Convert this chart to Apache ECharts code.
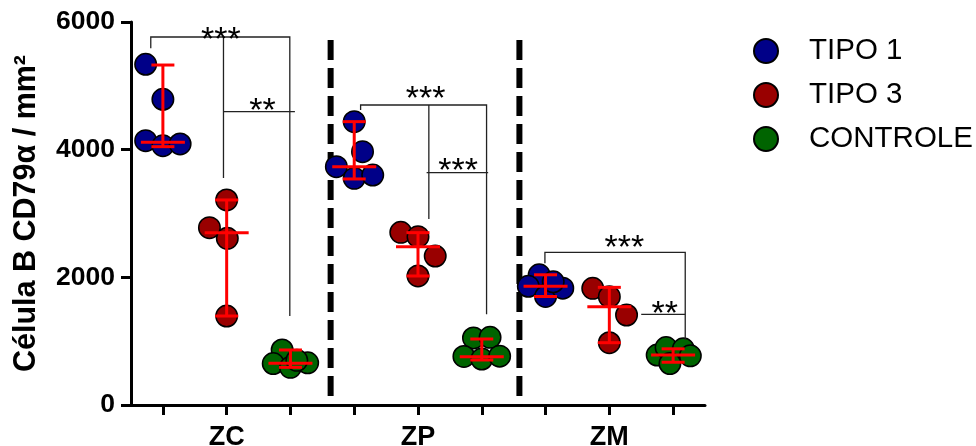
<!DOCTYPE html>
<html>
<head>
<meta charset="utf-8">
<script src="https://cdn.jsdelivr.net/npm/echarts@6/dist/echarts.min.js"></script>
<style>html,body{margin:0;padding:0;background:#fff}#c{width:976px;height:446px}</style>
</head>
<body>
<div id="c"></div>
<script>
// ---- data ----
const zones = ['ZC', 'ZP', 'ZM'];
const groupNames = ['TIPO 1', 'TIPO 3', 'CONTROLE'];
const yTicks = [0, 2000, 4000, 6000];

// individual values per zone (ZC, ZP, ZM)
const tipo1 = [[5338, 4789, 4141, 4063, 4089], [4439, 3969, 3734, 3551, 3603], [2040, 1860, 1700, 1830, 1930]];
const tipo3 = [[3212, 2778, 2611, 1394], [2705, 2637, 2334, 2021], [1828, 1697, 1410, 976]];
const controle = [[862, 650, 590, 660, 700], [1050, 1060, 760, 720, 765], [783, 900, 880, 650, 770]];
// horizontal jitter of each point (fraction of a slot)
const tipo1Jitter = [[-0.27, 0, -0.27, 0, 0.27], [0, 0.13, -0.28, 0, 0.29], [-0.1, -0.27, 0, 0.27, 0.12]];
const tipo3Jitter = [[0, -0.27, 0.01, 0], [-0.27, 0, 0.27, 0], [-0.26, 0, 0.27, 0]];
const controleJitter = [[-0.13, -0.27, 0, 0.27, 0.1], [-0.13, 0.13, -0.28, 0, 0.28], [-0.25, -0.11, 0.16, -0.05, 0.27]];

// median and range (per zone)
const tipo1Median = [4115, 3734, 1860], tipo1Low = [4047, 3541, 1700], tipo1High = [5326, 4439, 2040];
const tipo3Median = [2700, 2480, 1540], tipo3Low = [1394, 2021, 976], tipo3High = [3212, 2700, 1843];
const controleMedian = [653, 757, 783], controleLow = [590, 705, 670], controleHigh = [862, 1034, 880];

// significance brackets (data coordinates: slot units, value)
const bracketLines = [
  [[0.31, 5588], [0.31, 5765], [2.49, 5765], [2.49, 1394]],
  [[1.45, 3556], [1.45, 5750]],
  [[1.45, 4595], [2.57, 4595]],
  [[3.60, 4622], [3.60, 4700], [5.575, 4700], [5.575, 1421]],
  [[4.67, 2914], [4.67, 4700]],
  [[4.635, 3640], [5.60, 3640]],
  [[6.49, 2220], [6.49, 2392], [8.69, 2392], [8.69, 1018]],
  [[8.0, 1421], [8.69, 1421]]
];
const starText = ['***', '**', '***', '***', '***', '**'];
const starX = [1.41, 2.06, 4.62, 5.13, 7.735, 8.37];
const starY = [5820, 4700, 4896, 3768, 2561, 1527];
const dividerX = [3.13, 6.09];
const dividerTop = 5718;

// ---- build ----
const colors = ['#000088', '#990000', '#006400'];
const vals = [tipo1, tipo3, controle];
const jit = [tipo1Jitter, tipo3Jitter, controleJitter];
const meds = [tipo1Median, tipo3Median, controleMedian];
const lows = [tipo1Low, tipo3Low, controleLow];
const highs = [tipo1High, tipo3High, controleHigh];

const FONT = '"Liberation Sans", Arial, sans-serif';
const series = [];

// dividers
dividerX.forEach(x => {
  series.push({
    type: 'line', data: [[x, dividerTop], [x, 0]], symbol: 'none', silent: true,
    lineStyle: { color: '#000', width: 6, type: [20, 8] }, z: 1
  });
});

groupNames.forEach((name, g) => {
  const data = [];
  zones.forEach((z, zi) => {
    vals[g][zi].forEach((v, i) => {
      data.push([zi * 3 + g + 0.5 + jit[g][zi][i], v]);
    });
  });
  series.push({
    name, type: 'scatter', data, symbol: 'circle', symbolSize: 21.5, z: 3,
    itemStyle: { color: colors[g], borderColor: '#000', borderWidth: 1.5, opacity: 1 }
  });
});

// error bars (median with range)
const errData = [];
groupNames.forEach((n, g) => zones.forEach((z, zi) => {
  errData.push([zi * 3 + g + 0.5, meds[g][zi], lows[g][zi], highs[g][zi]]);
}));
series.push({
  type: 'custom', z: 5, silent: true, data: errData,
  renderItem: (params, api) => {
    const x = api.value(0);
    const m = api.coord([x, api.value(1)]);
    const lo = api.coord([x, api.value(2)]);
    const hi = api.coord([x, api.value(3)]);
    const st = { stroke: '#ff0000', lineWidth: 3 };
    return { type: 'group', children: [
      { type: 'line', shape: { x1: lo[0], y1: lo[1], x2: hi[0], y2: hi[1] }, style: st },
      { type: 'line', shape: { x1: lo[0] - 11.5, y1: lo[1], x2: lo[0] + 11.5, y2: lo[1] }, style: st },
      { type: 'line', shape: { x1: hi[0] - 11.5, y1: hi[1], x2: hi[0] + 11.5, y2: hi[1] }, style: st },
      { type: 'line', shape: { x1: m[0] - 22, y1: m[1], x2: m[0] + 22, y2: m[1] }, style: st }
    ]};
  }
});

// brackets
series.push({
  type: 'custom', z: 4, silent: true, data: bracketLines.map((b, i) => [i]),
  renderItem: (params, api) => {
    const pts = bracketLines[params.dataIndex].map(p => api.coord(p));
    return { type: 'polyline', shape: { points: pts }, style: { stroke: '#222', lineWidth: 1.3, fill: null } };
  }
});
// stars
series.push({
  type: 'custom', z: 6, silent: true, data: starText.map((t, i) => [starX[i], starY[i]]),
  renderItem: (params, api) => {
    const p = api.coord([api.value(0), api.value(1)]);
    return { type: 'text', x: p[0], y: p[1] + 7, style: {
      text: starText[params.dataIndex], fontSize: 34, fontFamily: FONT, fill: '#000',
      align: 'center', verticalAlign: 'middle' } };
  }
});

const chart = echarts.init(document.getElementById('c'));
chart.setOption({
  animation: false,
  backgroundColor: '#fff',
  grid: { left: 131, right: 271, top: 22, bottom: 41, containLabel: false, outerBoundsMode: 'none' },
  legend: {
    data: groupNames, orient: 'vertical', left: 748, top: 31, icon: 'circle',
    itemWidth: 24, itemHeight: 24, itemGap: 14,
    textStyle: { fontSize: 29.5, fontFamily: FONT, color: '#000', lineHeight: 30, padding: [0, 0, 0, 26] }
  },
  xAxis: {
    type: 'value', min: 0, max: 9,
    axisLine: { show: true, lineStyle: { color: '#000', width: 3 } },
    axisTick: { show: true, length: 10, lineStyle: { color: '#000', width: 3 },
      customValues: [0.5, 1.5, 2.5, 3.5, 4.5, 5.5, 6.5, 7.5, 8.5] },
    axisLabel: { customValues: [1.5, 4.5, 7.5], formatter: v => zones[Math.round((v - 1.5) / 3)],
      fontSize: 27, fontWeight: 'bold', fontFamily: FONT, color: '#000', margin: 19 },
    splitLine: { show: false }
  },
  yAxis: {
    type: 'value', min: 0, max: 6000, interval: 2000,
    name: 'Célula B CD79α / mm²', nameLocation: 'middle', nameRotate: 90, nameGap: 89,
    nameTextStyle: { fontSize: 30.5, fontWeight: 'bold', fontFamily: FONT, color: '#000' },
    axisLine: { show: true, lineStyle: { color: '#000', width: 3 } },
    axisTick: { show: true, length: 10, lineStyle: { color: '#000', width: 3 } },
    axisLabel: { fontSize: 26.5, fontWeight: 'bold', fontFamily: FONT, color: '#000', margin: 16,
      formatter: v => String(v) },
    splitLine: { show: false }
  },
  series
});
</script>
</body>
</html>
